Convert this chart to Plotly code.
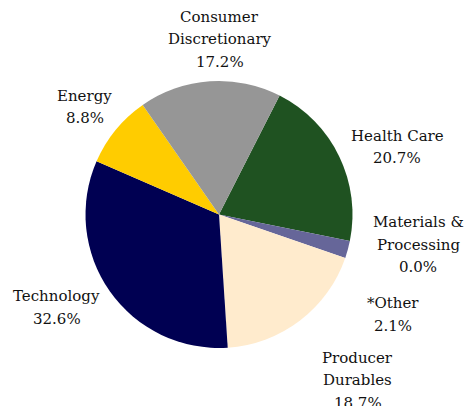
import plotly.graph_objects as go

# Sector weights (%), listed clockwise starting from Health Care
sectors = ["Health Care", "Materials &<br>Processing", "*Other", "Producer<br>Durables",
           "Technology", "Energy", "Consumer<br>Discretionary"]
weights = [20.7, 0.0, 2.1, 18.7, 32.6, 8.8, 17.2]
colors = ["#1f5221", "#993366", "#666699", "#ffebcd", "#000052", "#ffcc00", "#969696"]

# Label block centres in paper coordinates (x, y)
label_pos = [(0.852, 0.638), (0.897, 0.397), (0.843, 0.225), (0.768, 0.063),
             (0.122, 0.243), (0.182, 0.737), (0.472, 0.903)]

SERIF = "DejaVu Serif"
LINE_GAP = 22.5  # px between label lines

fig = go.Figure(go.Pie(
    labels=sectors,
    values=weights,
    marker=dict(colors=colors, line=dict(width=0)),
    sort=False,
    direction="clockwise",
    rotation=27,
    textinfo="none",
    hoverinfo="none",
    showlegend=False,
    domain=dict(x=[84 / 466, 354 / 466], y=[1 - 348 / 406, 1 - 81 / 406]),
))

for name, val, (x, y) in zip(sectors, weights, label_pos):
    lines = name.split("<br>") + [f"{val:.1f}%"]
    n = len(lines)
    for i, line in enumerate(lines):
        fig.add_annotation(
            x=x, y=y, xref="paper", yref="paper",
            text=line, showarrow=False,
            xanchor="center", yanchor="middle",
            yshift=((n - 1) / 2 - i) * LINE_GAP,
            font=dict(family=SERIF, size=15, color="#111111"),
        )

fig.update_layout(
    width=466, height=406,
    margin=dict(l=0, r=0, t=0, b=0),
    font=dict(family=SERIF, size=15, color="#111111"),
    paper_bgcolor="white", plot_bgcolor="white",
)

fig.write_html("out.html")
